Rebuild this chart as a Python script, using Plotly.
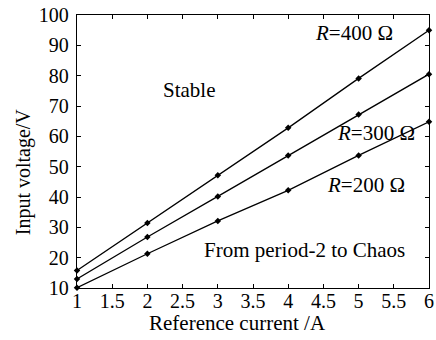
import plotly.graph_objects as go

current = [1, 2, 3, 4, 5, 6]
v_400 = [15.8, 31.4, 47.2, 62.8, 79.1, 95.0]
v_300 = [13.0, 26.8, 40.2, 53.7, 67.2, 80.5]
v_200 = [10.1, 21.3, 32.1, 42.2, 53.7, 64.8]

x_ticks = [1, 1.5, 2, 2.5, 3, 3.5, 4, 4.5, 5, 5.5, 6]
x_tick_text = ["1", "1.5", "2", "2.5", "3", "3.5", "4", "4.5", "5", "5.5", "6"]
y_ticks = [10, 20, 30, 40, 50, 60, 70, 80, 90, 100]

FONT = "Liberation Serif"

fig = go.Figure()
for ys in (v_400, v_300, v_200):
    fig.add_trace(go.Scatter(
        x=current, y=ys, mode="lines+markers",
        line=dict(color="black", width=1.3),
        marker=dict(symbol="diamond", size=5, color="black"),
        showlegend=False, cliponaxis=False,
    ))

ann = dict(xref="x", yref="y", showarrow=False,
           font=dict(family=FONT, size=21, color="black"))
fig.add_annotation(x=2.6, y=75.2, text="Stable", **ann)
fig.add_annotation(x=4.93, y=94, text="<i>R</i>=400 Ω", **ann)
fig.add_annotation(x=5.24, y=61, text="<i>R</i>=300 Ω", **ann)
fig.add_annotation(x=5.11, y=43.9, text="<i>R</i>=200 Ω", **ann)
fig.add_annotation(x=4.23, y=22.4, text="From period-2 to Chaos", **ann)

fig.add_annotation(xref="paper", yref="paper", x=-0.151, y=0.427,
                   xanchor="center", yanchor="middle",
                   text="Input voltage/V", textangle=-90, showarrow=False,
                   font=dict(family=FONT, size=20, color="black"))
fig.add_annotation(xref="paper", yref="paper", x=0.457, y=-0.127,
                   text="Reference current /A", showarrow=False, yanchor="middle",
                   font=dict(family=FONT, size=21, color="black"))

axis_common = dict(showline=True, linecolor="black", linewidth=1.3,
                   mirror="ticks", ticks="inside", ticklen=4, tickcolor="black",
                   showgrid=False, zeroline=False, ticklabeloverflow="allow",
                   tickfont=dict(family=FONT, size=20, color="black"))

fig.update_xaxes(range=[1, 6], tickvals=x_ticks, ticktext=x_tick_text,
                 ticklabelstandoff=-5, **axis_common)
fig.update_yaxes(range=[10, 100], tickvals=y_ticks, ticklabelstandoff=3, **axis_common)

fig.update_layout(
    width=436, height=340,
    margin=dict(l=77, r=2, t=15, b=52),
    paper_bgcolor="white", plot_bgcolor="white",
)

fig.write_html("out.html")
